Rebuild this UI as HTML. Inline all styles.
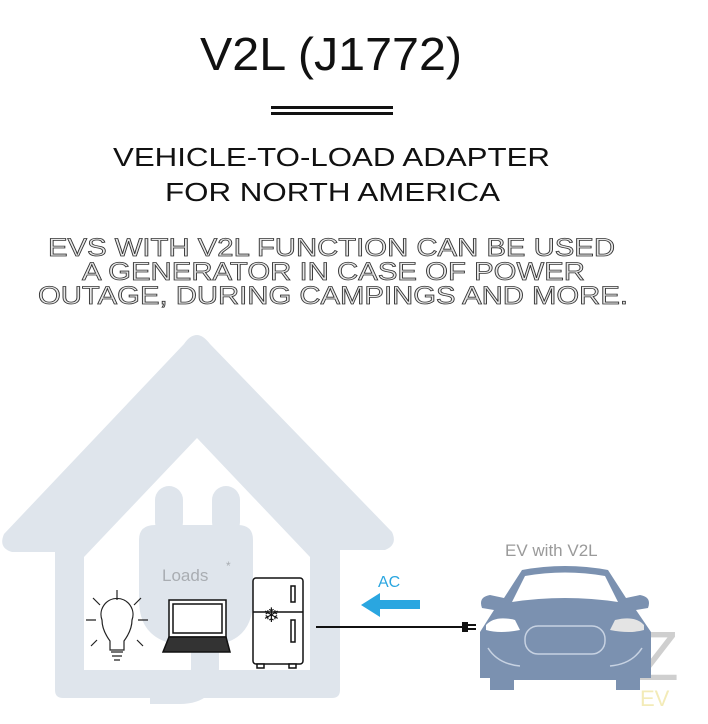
<!DOCTYPE html>
<html><head><meta charset="utf-8"><style>html,body{margin:0;padding:0;background:#fff}svg{display:block}</style></head>
<body>
<svg width="708" height="724" viewBox="0 0 708 724" xmlns="http://www.w3.org/2000/svg" font-family="Liberation Sans, sans-serif">
<rect width="708" height="724" fill="#fff"/>
<text x="200" y="70" font-size="46" textLength="262" lengthAdjust="spacingAndGlyphs" fill="#111">V2L (J1772)</text>
<rect x="271" y="106" width="122" height="3" fill="#111"/>
<rect x="271" y="112" width="122" height="3" fill="#111"/>
<text x="113" y="166" font-size="26" textLength="437" lengthAdjust="spacingAndGlyphs" fill="#111">VEHICLE-TO-LOAD ADAPTER</text>
<text x="165" y="201" font-size="26" textLength="335" lengthAdjust="spacingAndGlyphs" fill="#111">FOR NORTH AMERICA</text>
<g font-size="25" fill="#e8e8e8" stroke="#333" stroke-width="0.8">
<text x="48" y="256" textLength="567" lengthAdjust="spacingAndGlyphs">EVS WITH V2L FUNCTION CAN BE USED</text>
<text x="82" y="280" textLength="503" lengthAdjust="spacingAndGlyphs">A GENERATOR IN CASE OF POWER</text>
<text x="38" y="304" textLength="590" lengthAdjust="spacingAndGlyphs">OUTAGE, DURING CAMPINGS AND MORE.</text>
</g>
<!-- house -->
<path d="M197 335 Q203 335 210 344 L392 532 Q398 545 385 550 L340 550 L340 690 Q340 698 332 698 L63 698 Q55 698 55 690 L55 552 L12 552 Q-2 548 4 534 L184 344 Q190 335 197 335 Z" fill="#dfe5ec"/>
<path d="M197 438 L310 557 L310 670 L84 670 L84 557 Z" fill="#fff"/>
<!-- plug -->
<rect x="155" y="486" width="28" height="50" rx="14" fill="#dfe5ec"/>
<rect x="212" y="486" width="28" height="50" rx="14" fill="#dfe5ec"/>
<path d="M139 540 Q139 525 155 525 L238 525 Q253 525 253 540 L253 600 Q253 640 215 645 L180 645 Q139 640 139 600 Z" fill="#dfe5ec"/>
<path d="M205 640 L205 668 Q205 690 180 690 L150 690" fill="none" stroke="#dfe5ec" stroke-width="28"/>
<text x="162" y="581" font-size="17" fill="#a9adb2">Loads</text>
<text x="226" y="570" font-size="12" fill="#a9adb2">*</text>
<!-- bulb -->
<g stroke="#222" stroke-width="1.2" fill="none">
<path d="M110 650 L110 641 Q102 630 102 620 A16 16 0 1 1 132 620 Q132 630 124 641 L124 650 Z" fill="#fff"/>
<path d="M111 652 h12 M112 656 h10 M114 660 h6"/>
<path d="M117 600 v-10 M100 605 l-7-7 M134 605 l7-7 M86 620 h10 M138 620 h10 M97 640 l-6 6 M137 640 l6 6"/>
</g>
<!-- laptop -->
<g stroke="#111" fill="none" stroke-width="1.5">
<rect x="169" y="600" width="57" height="37" fill="#fff"/>
<rect x="173" y="604" width="49" height="29" fill="#fff"/>
<path d="M169 637 L163 652 L230 652 L226 637 Z" fill="#333"/>
</g>
<!-- fridge -->
<g stroke="#111" fill="#fff" stroke-width="1.5">
<rect x="253" y="578" width="50" height="86" rx="3"/>
<line x1="253" y1="612" x2="303" y2="612"/>
<rect x="291" y="586" width="4" height="16"/>
<rect x="291" y="620" width="4" height="22"/>
<rect x="257" y="664" width="7" height="4"/>
<rect x="289" y="664" width="7" height="4"/>
</g>
<text x="263" y="622" font-size="20" fill="#111">❄</text>
<!-- AC -->
<text x="378" y="587" font-size="16" fill="#2aa6e0">AC</text>
<path d="M361 605 L380 593 L380 600 L420 600 L420 609 L380 609 L380 617 Z" fill="#2aa6e0"/>
<line x1="316" y1="627" x2="462" y2="627" stroke="#111" stroke-width="2"/>
<rect x="462" y="622" width="6" height="10" fill="#111"/>
<rect x="468" y="624" width="8" height="2" fill="#111"/>
<rect x="468" y="628" width="8" height="2" fill="#111"/>
<!-- watermark -->
<text x="636" y="680" font-size="70" fill="#cfcfcf" transform="scale(1,1)">Z</text>
<text x="640" y="706" font-size="22" fill="#f3ebb8">EV</text>
<!-- car -->
<text x="505" y="556" font-size="17" fill="#9a9a9a">EV with V2L</text>
<g fill="#7b91b0">
<path d="M522 570 Q565 562 608 570 L626 598 L640 595 Q652 597 648 608 L636 610 L651 632 L651 678 L640 678 L640 690 L616 690 L616 680 L514 680 L514 690 L490 690 L490 678 L480 678 L480 632 L494 610 L482 608 Q478 597 490 595 L504 598 Z"/>
</g>
<path d="M525 576 Q565 569 605 576 L618 602 Q565 594 512 602 Z" fill="#fff"/>
<path d="M486 625 Q495 615 515 620 L520 630 Q500 634 486 630 Z" fill="#fff"/>
<path d="M644 625 Q635 615 615 620 L610 630 Q630 634 644 630 Z" fill="#e4e4e4"/>
<rect x="525" y="626" width="80" height="28" rx="13" fill="none" stroke="#c7d2e2" stroke-width="1.5"/>
<path d="M488 648 Q498 664 520 666 M642 648 Q632 664 610 666" fill="none" stroke="#c7d2e2" stroke-width="1.5"/>
</svg>
</body></html>
